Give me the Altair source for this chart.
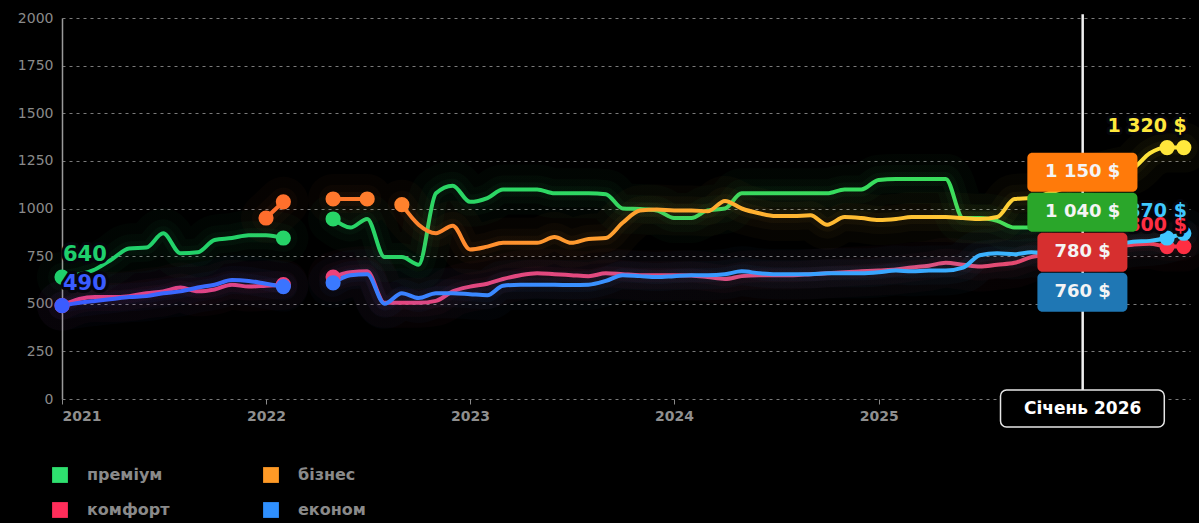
import altair as alt
import numpy as np
import pandas as pd

# Monthly average price per class, USD, from January 2021 (None = no data that month)
first_month = "2021-01-01"

premium = [640, 655, 680, 735, 790, 795, 870, 765, 770, 835, 845, 860, 860, 845,
           None, None, 945, 900, 945, 745, 745, 705, 1080, 1120, 1035, 1055, 1100, 1100,
           1100, 1080, 1080, 1080, 1075, 1000, 997, 990, 950, 950, 990, 1000, 1080, 1080,
           1080, 1080, 1080, 1080, 1100, 1100, 1150, 1155, 1155, 1155, 1155, 950, 950, 935,
           900, 900, 950, 1000, 1040, None, None, None, None, None, None]
business = [None, None, None, None, None, None, None, None, None, None, None, None, 950, 1035,
            None, None, 1050, 1050, 1050, None, 1020, 915, 870, 910, 785, 800, 820, 820,
            820, 850, 820, 840, 845, 925, 990, 995, 990, 990, 985, 1040, 1000, 975,
            960, 960, 965, 915, 955, 950, 940, 945, 955, 955, 955, 950, 945, 955,
            1050, 1055, 1080, 1110, 1150, 1165, 1185, 1210, 1290, 1320, 1320]
comfort = [490, 525, 535, 535, 540, 555, 565, 585, 565, 575, 600, 590, 595, 600,
           None, None, 640, 665, 670, 505, 505, 505, 515, 565, 590, 605, 630, 650,
           660, 655, 650, 645, 660, 655, 650, 650, 650, 648, 640, 630, 645, 650,
           650, 650, 655, 660, 665, 670, 675, 680, 690, 700, 715, 705, 695, 705,
           715, 745, 760, 770, 780, 790, 800, 810, 815, 800, 800]
economy = [490, 505, 515, 525, 535, 540, 555, 565, 585, 600, 625, 620, 605, 590,
           None, None, 610, 650, 655, 500, 555, 530, 555, 555, 550, 545, 595, 600,
           600, 600, 598, 600, 620, 650, 645, 640, 645, 650, 650, 655, 670, 660,
           655, 655, 655, 660, 660, 660, 665, 675, 670, 675, 675, 690, 755, 765,
           760, 770, 765, 760, 760, 790, 810, 825, 830, 845, 870]

series_names = ["преміум", "бізнес", "комфорт", "економ"]
series_values = [premium, business, comfort, economy]

start_labelled = ["преміум", "економ"]
end_labelled = ["бізнес", "комфорт", "економ"]

marker_month = "2026-01-01"
marker_label = "Січень 2026"

y_ticks = [0, 250, 500, 750, 1000, 1250, 1500, 1750, 2000]
year_ticks = [2021, 2022, 2023, 2024, 2025, 2026]

# ---- styling -------------------------------------------------------------
FONT = "DejaVu Sans"
PLOT_W, PLOT_H = 1128, 381
Y_MAX = 2000
X_END = (2026, 7, 12)

line_stops = {
    "преміум": [(0.0, "#1fd06c"), (1.0, "#3ee05a")],
    "бізнес": [(0.0, "#ff6d2c"), (0.25, "#ff902e"), (0.5, "#ffad30"),
               (0.75, "#ffc834"), (1.0, "#ffe83c")],
    "комфорт": [(0.0, "#f03e7c"), (0.8, "#e84a74"), (1.0, "#ff2e42")],
    "економ": [(0.0, "#3a5cff"), (0.35, "#3a86ff"), (0.75, "#38a8ff"), (1.0, "#40c8ff")],
}
legend_colors = ["#2ee06f", "#ff9a26", "#ff2d5a", "#2f90ff"]
tip_colors = {"преміум": "#2aa62a", "бізнес": "#ff7a0a",
              "комфорт": "#d62f2f", "економ": "#1f77b4"}


def hex_rgb(h):
    return tuple(int(h[i:i + 2], 16) for i in (1, 3, 5))


def color_at(stops, t):
    for (o0, c0), (o1, c1) in zip(stops, stops[1:]):
        if t <= o1:
            f = 0.0 if o1 == o0 else (t - o0) / (o1 - o0)
            a, b = hex_rgb(c0), hex_rgb(c1)
            return "#%02x%02x%02x" % tuple(round(x + (y - x) * f) for x, y in zip(a, b))
    return stops[-1][1]


def gradient(stops):
    return alt.Gradient(
        gradient="linear",
        stops=[alt.GradientStop(offset=o, color=c) for o, c in stops],
        x1=0, x2=1, y1=0, y2=0,
    )


def money(v):
    return f"{int(v):,}".replace(",", " ") + " $"


months = pd.date_range(first_month, periods=len(premium), freq="MS")
dates = list(months.strftime("%Y-%m-%d"))

x_scale = alt.Scale(
    type="utc", nice=False,
    domain=[alt.DateTime(year=2021, month=1, date=1, utc=True),
            alt.DateTime(year=X_END[0], month=X_END[1], date=X_END[2], utc=True)],
)
x_axis = alt.Axis(
    values=[alt.DateTime(year=y, month=1, date=1, utc=True) for y in year_ticks],
    format="%Y", title=None, grid=False, domain=False, ticks=True, tickSize=5,
    tickColor="#8a8a8a", labelColor="#8f8f8f", labelFont=FONT, labelFontSize=14,
    labelFontWeight="bold", labelPadding=5,
)
y_scale = alt.Scale(domain=[0, Y_MAX], nice=False)
y_axis = alt.Axis(
    values=y_ticks, format="d", title=None, grid=True, gridColor="#7a7a7a",
    gridDash=[3, 4], gridWidth=1, domain=True, domainColor="#9a9a9a", domainWidth=1.5,
    ticks=False, labelColor="#8a8a8a", labelFont=FONT, labelFontSize=14, labelPadding=9,
)


def X(field):
    return alt.X(field, type="temporal", scale=x_scale, axis=x_axis)


def Y(field):
    return alt.Y(field, type="quantitative", scale=y_scale, axis=y_axis)


days_total = (pd.Timestamp(*X_END) - pd.Timestamp(first_month)).days
px_per_day = PLOT_W / days_total
px_per_unit = PLOT_H / Y_MAX

# ---- lines, soft glows, segment dots, value labels ------------------------
layers = []
dot_rows, label_rows = [], []
for name, vals in zip(series_names, series_values):
    df = pd.DataFrame({"date": dates, "value": vals})
    stops = line_stops[name]
    grad = gradient(stops)
    for w, op in [(50, 0.025), (28, 0.03), (14, 0.04)]:
        layers.append(
            alt.Chart(df).mark_line(
                stroke=grad, strokeWidth=w, opacity=op, interpolate="monotone",
                strokeCap="round", strokeJoin="round",
                invalid="break-paths-show-domains",
            ).encode(x=X("date"), y=Y("value"))
        )
    layers.append(
        alt.Chart(df).mark_line(
            stroke=grad, strokeWidth=4, interpolate="monotone",
            strokeCap="round", strokeJoin="round",
            invalid="break-paths-show-domains",
        ).encode(x=X("date"), y=Y("value"))
    )

    idx = [i for i, v in enumerate(vals) if v is not None]
    first, last = idx[0], idx[-1]
    for i in idx:
        prev_missing = i == first or vals[i - 1] is None
        next_missing = i == last or vals[i + 1] is None
        if prev_missing or next_missing or i >= last - 1:
            t = (i - first) / (last - first)
            dot_rows.append({"date": dates[i], "value": vals[i],
                             "c": color_at(stops, t)})
    if name in start_labelled:
        label_rows.append({"date": dates[first], "value": vals[first],
                           "text": str(vals[first]), "c": color_at(stops, 0.0),
                           "side": "start"})
    if name in end_labelled:
        label_rows.append({"date": dates[last], "value": vals[last],
                           "text": money(vals[last]), "c": color_at(stops, 1.0),
                           "side": "end"})

dots = pd.DataFrame(dot_rows)
layers.append(
    alt.Chart(dots).mark_circle(size=230, opacity=1).encode(
        x=X("date"), y=Y("value"), color=alt.Color("c:N", scale=None))
)

labels = pd.DataFrame(label_rows)
start_df = labels[labels.side == "start"]
end_df = labels[labels.side == "end"]
for sub, align, dx, size in [(start_df, "left", 1, 21), (end_df, "right", 3, 19)]:
    common = dict(align=align, baseline="middle", dx=dx, dy=-22, font=FONT,
                  fontWeight="bold", fontSize=size)
    layers.append(
        alt.Chart(sub).mark_text(fill="#05050c", stroke="#05050c", strokeWidth=6,
                                 strokeJoin="round", **common)
        .encode(x=X("date"), y=Y("value"), text="text:N")
    )
    layers.append(
        alt.Chart(sub).mark_text(**common)
        .encode(x=X("date"), y=Y("value"), text="text:N",
                color=alt.Color("c:N", scale=None))
    )

# ---- legend (entries only, no marks) -------------------------------------
layers.append(
    alt.Chart(dots).mark_square(filled=True).encode(
        x=X("date"), y=Y("value"),
        color=alt.Color(
            "series:N",
            scale=alt.Scale(domain=series_names, range=legend_colors),
            legend=alt.Legend(
                title=None, orient="none", legendX=-10, legendY=449, columns=2,
                direction="horizontal",
                symbolType="square", symbolSize=250, symbolStrokeWidth=0,
                symbolOpacity=1, labelFont=FONT, labelFontSize=16,
                labelFontWeight="bold", labelColor="#8a8a8a", labelOffset=19,
                columnPadding=93, rowPadding=19, padding=0,
            ),
        ),
    ).transform_calculate(series="'x'").transform_filter("false")
)

# ---- hover marker for the selected month -----------------------------------
mi = dates.index(marker_month)
tip = [(n, v[mi]) for n, v in zip(series_names, series_values) if v[mi] is not None]
tip.sort(key=lambda r: r[1], reverse=True)
step_u = 40 / px_per_unit
half_h_u = 19.5 / px_per_unit
anchor_u = 11 / px_per_unit
mean_u = float(np.mean([v for _, v in tip]))
mk = pd.Timestamp(marker_month)
tip_rows = []
for k, (n, v) in enumerate(tip):
    yc = mean_u + step_u * (len(tip) - 1) / 2 - step_u * k - anchor_u
    half_w = (len(money(v)) * 10 + 40) / 2 / px_per_day
    tip_rows.append({
        "x0": (mk - pd.Timedelta(days=half_w)).strftime("%Y-%m-%d"),
        "x1": (mk + pd.Timedelta(days=half_w)).strftime("%Y-%m-%d"),
        "y0": yc - half_h_u, "y1": yc + half_h_u, "yc": yc,
        "date": marker_month, "text": money(v), "c": tip_colors[n],
    })
tips = pd.DataFrame(tip_rows)

date_half_w = 82 / px_per_day
date_c = -9.5 / px_per_unit
date_half_h = 18.5 / px_per_unit
date_box = pd.DataFrame([{
    "x0": (mk - pd.Timedelta(days=date_half_w)).strftime("%Y-%m-%d"),
    "x1": (mk + pd.Timedelta(days=date_half_w)).strftime("%Y-%m-%d"),
    "y0": date_c - date_half_h, "y1": date_c + date_half_h, "yc": date_c,
    "date": marker_month, "text": marker_label,
    "top": Y_MAX + 20, "bottom": date_c + date_half_h,
}])

layers.append(
    alt.Chart(date_box).mark_rule(color="#f0f0f0", strokeWidth=2.5).encode(
        x=X("date"), y=Y("top"), y2="bottom")
)
layers.append(
    alt.Chart(tips).mark_rect(cornerRadius=5).encode(
        x=X("x0"), x2="x1", y=Y("y0"), y2="y1", color=alt.Color("c:N", scale=None))
)
layers.append(
    alt.Chart(tips).mark_text(align="center", baseline="middle", font=FONT,
                              fontWeight="bold", fontSize=18, color="#f4f4f4")
    .encode(x=X("date"), y=Y("yc"), text="text:N")
)
layers.append(
    alt.Chart(date_box).mark_rect(cornerRadius=6, fill="#000000", stroke="#e6e6e6",
                                  strokeWidth=1.5)
    .encode(x=X("x0"), x2="x1", y=Y("y0"), y2="y1")
)
layers.append(
    alt.Chart(date_box).mark_text(align="center", baseline="middle", font=FONT,
                                  fontWeight="bold", fontSize=17, color="#ffffff")
    .encode(x=X("date"), y=Y("yc"), text="text:N")
)

chart = (
    alt.layer(*layers)
    .properties(
        width=PLOT_W, height=PLOT_H,
        padding={"left": 62, "top": 18, "right": 9, "bottom": 124},
        autosize=alt.AutoSizeParams(type="none"),
        background="#000000",
    )
    .configure_view(stroke="transparent")
)

chart.save("out.html", embed_options={"renderer": "svg", "actions": False})
